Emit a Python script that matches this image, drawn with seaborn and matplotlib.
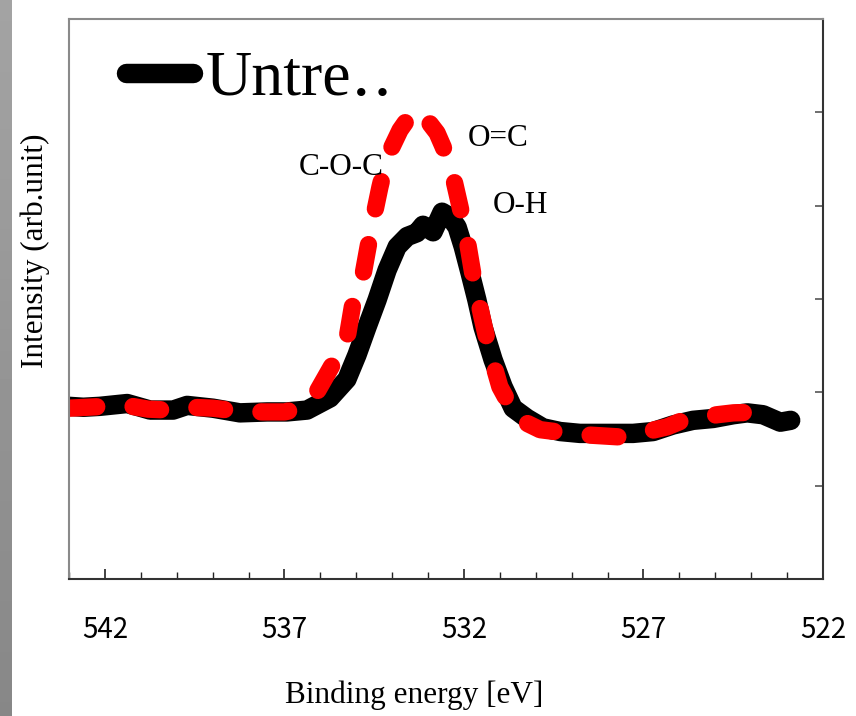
import numpy as np
import matplotlib
matplotlib.use("Agg")
import matplotlib.pyplot as plt
from matplotlib.ticker import FixedLocator, MultipleLocator
import seaborn as sns
import pandas as pd

# O1s spectra (binding energy in eV, intensity arb. units)
energy_untreated = [543.0, 542.6, 542.14, 541.38, 540.74, 540.10, 539.71, 538.99, 538.24,
                    537.48, 536.93, 536.37, 535.73, 535.26, 534.98, 534.70, 534.42, 534.14,
                    533.86, 533.58, 533.31, 533.14, 532.86, 532.61, 532.39, 532.19, 532.02,
                    531.83, 531.64, 531.47, 531.19, 530.91, 530.63, 530.24, 529.80, 529.32,
                    528.77, 528.01, 527.29, 526.73, 526.18, 525.62, 525.06, 524.50, 524.11,
                    523.67, 523.19, 522.9]
intensity_untreated = [1.85, 1.84, 1.85, 1.88, 1.81, 1.81, 1.86, 1.83, 1.78,
                       1.79, 1.79, 1.81, 1.94, 2.14, 2.40, 2.70, 2.99, 3.31,
                       3.56, 3.67, 3.71, 3.79, 3.72, 3.93, 3.88, 3.77, 3.56,
                       3.28, 2.99, 2.70, 2.35, 2.06, 1.83, 1.72, 1.62, 1.58,
                       1.56, 1.56, 1.56, 1.58, 1.65, 1.70, 1.72, 1.76, 1.78,
                       1.76, 1.68, 1.70]

energy_treated = [543.0, 542.5, 542.0, 541.4, 540.8, 540.2, 539.6, 539.0, 538.3,
                  537.6, 537.0, 536.76, 536.4, 536.1, 535.73, 535.26, 535.09, 534.84,
                  534.67, 534.53, 534.34, 534.14, 533.78, 533.58, 533.42, 533.2, 533.03,
                  532.75, 532.58, 532.30, 532.11, 531.91, 531.74, 531.50, 531.27, 531.00,
                  530.52, 529.88, 528.85, 527.57, 526.34, 525.90, 524.95, 524.50, 523.56,
                  523.45]
intensity_treated = [1.83, 1.84, 1.85, 1.86, 1.82, 1.81, 1.84, 1.83, 1.80,
                     1.79, 1.79, 1.81, 1.90, 2.00, 2.25, 2.57, 2.96, 3.20,
                     3.56, 3.85, 4.20, 4.52, 4.81, 4.92, 4.82, 4.88, 4.92,
                     4.78, 4.63, 4.31, 3.99, 3.63, 3.24, 2.81, 2.42, 2.06,
                     1.72, 1.60, 1.55, 1.52, 1.63, 1.70, 1.76, 1.78, 1.79,
                     1.74]

peak_labels = ["C-O-C", "O=C", "O-H"]
peak_x = [535.42, 531.04, 530.44]
peak_y = [4.33, 4.64, 3.92]

major_ticks = [542, 537, 532, 527, 522]

df_u = pd.DataFrame({"energy": energy_untreated, "intensity": intensity_untreated})
df_t = pd.DataFrame({"energy": energy_treated, "intensity": intensity_treated})

sns.set_theme(style="white")
plt.rcParams["text.color"] = "black"
plt.rcParams["axes.labelcolor"] = "black"
serif = ["Liberation Serif", "DejaVu Serif"]
tickfont = ["Noto Sans CJK JP", "DejaVu Sans"]

fig = plt.figure(figsize=(8.56, 7.16), dpi=100)
ax = fig.add_axes([69 / 856, 1 - 579 / 716, 754 / 856, 560 / 716])

# grey strip at the left edge of the screenshot
strip = fig.add_axes([0, 0, 12 / 856, 1])
strip.imshow(np.linspace(0.64, 0.53, 100).reshape(-1, 1), cmap="gray", vmin=0, vmax=1,
             aspect="auto")
strip.axis("off")

sns.lineplot(data=df_u, x="energy", y="intensity", ax=ax, sort=False, estimator=None,
             color="black", linewidth=14, solid_capstyle="round", solid_joinstyle="round")
sns.lineplot(data=df_t, x="energy", y="intensity", ax=ax, sort=False, estimator=None,
             color="red", linewidth=12.5, linestyle=(0, (1.6, 2.1)),
             dash_capstyle="round", dash_joinstyle="round")

for lab, px, py in zip(peak_labels, peak_x, peak_y):
    ax.text(px, py, lab, ha="center", va="baseline", fontsize=22.5, family=serif,
            color="black")

ax.set_xlim(543, 522)
ax.set_ylim(0, 6)
ax.xaxis.set_major_locator(FixedLocator(major_ticks))
ax.xaxis.set_minor_locator(MultipleLocator(1))
ax.tick_params(axis="x", which="both", direction="in", bottom=True, top=False,
               color="#222222", labelcolor="black", labelsize=20, pad=26)
ax.tick_params(axis="x", which="major", length=7, width=1.2)
ax.tick_params(axis="x", which="minor", length=5, width=1.0)
for t in ax.get_xticklabels():
    t.set_family(tickfont)

ax.yaxis.tick_right()
ax.set_yticks([1, 2, 3, 4, 5])
ax.tick_params(axis="y", direction="in", right=True, left=False, labelright=False,
               length=6, width=1.2, colors="#555555")

for side in ["top", "left"]:
    ax.spines[side].set_color("#8a8a8a")
    ax.spines[side].set_linewidth(1.5)
for side in ["right", "bottom"]:
    ax.spines[side].set_color("#333333")
    ax.spines[side].set_linewidth(1.5)

ax.set_xlabel("Binding energy [eV]", fontsize=22.5, family=serif, color="black")
ax.set_ylabel("Intensity (arb.unit)", fontsize=22.5, family=serif, color="black")
ax.xaxis.set_label_coords(0.4576, -0.182)
ax.yaxis.set_label_coords(-0.025, 0.586)

leg = ax.legend(handles=[ax.lines[0]], labels=["Untre\u2025"], loc="upper left",
                bbox_to_anchor=(0.075, 0.944), frameon=False, handlelength=1.05,
                handletextpad=0.2, borderpad=0, borderaxespad=0,
                prop={"family": serif, "size": 46})
for t in leg.get_texts():
    t.set_color("black")

fig.savefig("out.png", dpi=100)
